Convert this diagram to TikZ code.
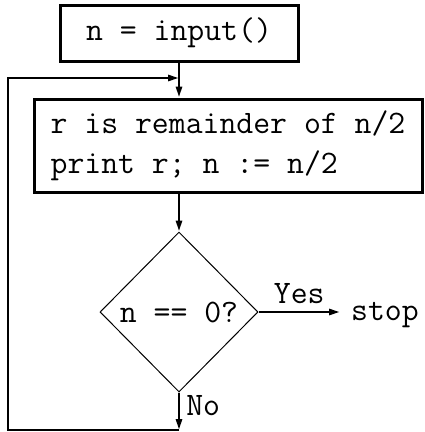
\documentclass[tikz,border=0pt]{standalone}
\usetikzlibrary{shapes.geometric,arrows.meta}
\begin{document}
\begin{tikzpicture}[x=1pt,y=-1pt,
  every node/.style={font=\ttfamily\fontsize{32.8}{40}\selectfont},
  box/.style={draw, line width=3pt, inner sep=0pt},
  test/.style={draw, diamond, line width=1pt, inner sep=0pt,
               minimum width=158pt, minimum height=160pt},
  flow/.style={line width=2.5pt, -{Triangle[length=11pt,width=6pt]}},
  lbl/.style={inner sep=0pt}
]
\useasboundingbox (0,0) rectangle (424,432);

% statements
\node[box, minimum width=238pt, minimum height=56pt] (inp) at (179,33) {n = input()};
\node[box, minimum width=388pt, minimum height=93pt, align=left] (proc) at (228,145.5)
      {r is remainder of n/2\\print r; n := n/2};

% test
\node[test] (q) at (179,312) {n == 0?};
\node[lbl, inner xsep=11pt, anchor=base west] (stop) at (340,320) {stop};

% loop corners
\coordinate (bl) at (8,430);
\coordinate (tl) at (8,78);
\coordinate (merge) at (inp.south |- tl);

% connectors
\draw[flow] (inp.south) -- (inp.south |- proc.north);
\draw[flow] (inp.south |- proc.south) -- (q.north);
\draw[flow] (q.east) -- node[lbl, anchor=base, yshift=9pt] {Yes} (q.east -| stop.west);
\draw[flow] (q.south) -- node[lbl, pos=0.6, anchor=base west, xshift=6pt] {No} (q.south |- bl);
\draw[flow] (q.south |- bl) -- (bl) -- (tl) -- (merge);
\end{tikzpicture}
\end{document}
